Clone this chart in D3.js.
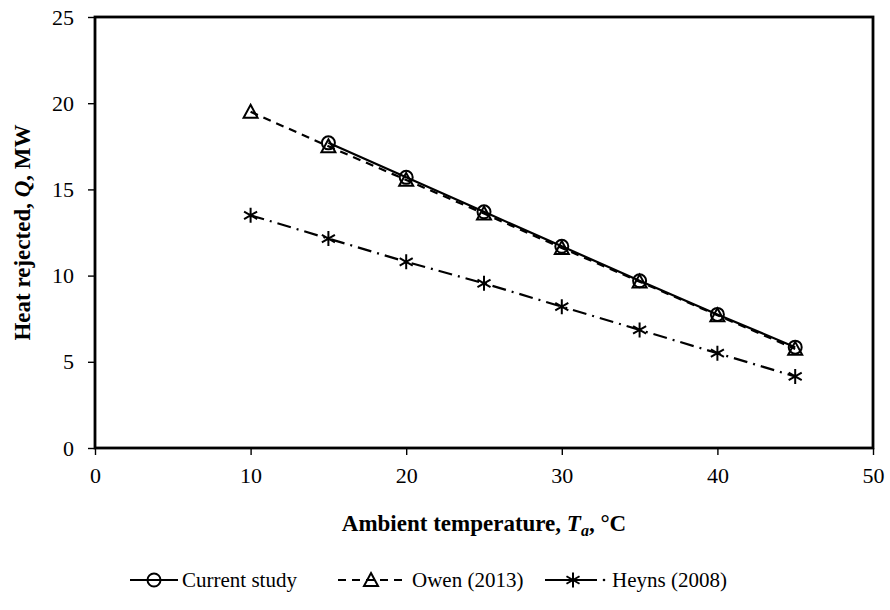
<!DOCTYPE html>
<html><head><meta charset="utf-8">
<script src="https://cdn.jsdelivr.net/npm/d3@7"></script>
<style>body{margin:0;background:#fff}svg{display:block}</style>
</head><body>
<script>
const xTicks = [0,10,20,30,40,50];
const yTicks = [0,5,10,15,20,25];
const currentX = [15,20,25,30,35,40,45];
const currentY = [17.7,15.7,13.7,11.7,9.7,7.75,5.85];
const owenX = [10,15,20,25,30,35,40,45];
const owenY = [19.5,17.5,15.55,13.6,11.6,9.65,7.7,5.75];
const heynsX = [10,15,20,25,30,35,40,45];
const heynsY = [13.5,12.15,10.8,9.55,8.2,6.85,5.5,4.15];
const seriesNames = ["Current study","Owen (2013)","Heyns (2008)"];

const W=890,H=610;
const m={l:95,r:873,t:17,b:448};
const FONT="Liberation Serif";
const svg=d3.select("body").append("svg").attr("width",W).attr("height",H);
const x=d3.scaleLinear().domain([0,50]).range([m.l,m.r]);
const y=d3.scaleLinear().domain([0,25]).range([m.b,m.t]);

// axes
const gx=svg.append("g").attr("transform",`translate(0,${m.b})`)
  .call(d3.axisBottom(x).tickValues(xTicks).tickSize(7).tickPadding(12).tickSizeOuter(0));
const gy=svg.append("g").attr("transform",`translate(${m.l},0)`)
  .call(d3.axisLeft(y).tickValues(yTicks).tickSize(7).tickPadding(14).tickSizeOuter(0));
[gx,gy].forEach(g=>{
  g.attr("font-family",FONT).attr("font-size",22);
  g.select(".domain").remove();
  g.selectAll("line").attr("stroke","#000").attr("stroke-width",1.4);
  g.selectAll("text").attr("font-family",FONT).attr("font-size",22).attr("fill","#000");
});
// frame
svg.append("rect").attr("x",m.l).attr("y",m.t).attr("width",m.r-m.l).attr("height",m.b-m.t)
  .attr("fill","none").attr("stroke","#000").attr("stroke-width",2.8);

// series
function symPath(type,cx,cy,g){
  if(type==="circle"){
    g.append("circle").attr("cx",cx).attr("cy",cy).attr("r",6.5).attr("fill","none").attr("stroke","#000").attr("stroke-width",2);
  } else if(type==="tri"){
    const s=7;
    g.append("path").attr("d",`M${cx},${cy-s}L${cx+s},${cy+s*0.85}L${cx-s},${cy+s*0.85}Z`)
      .attr("fill","none").attr("stroke","#000").attr("stroke-width",2);
  } else {
    const s=7.5;
    g.append("path").attr("d",`M${cx},${cy-s}V${cy+s}M${cx-s*0.87},${cy-s*0.5}L${cx+s*0.87},${cy+s*0.5}M${cx-s*0.87},${cy+s*0.5}L${cx+s*0.87},${cy-s*0.5}`)
      .attr("fill","none").attr("stroke","#000").attr("stroke-width",2);
  }
}
const line=d3.line().x(d=>x(d[0])).y(d=>y(d[1]));
const series=[
  {xs:owenX,ys:owenY,dash:"8,6",sym:"tri"},
  {xs:heynsX,ys:heynsY,dash:"14,6,2,6",sym:"star"},
  {xs:currentX,ys:currentY,dash:null,sym:"circle"}
];
series.forEach(s=>{
  const pts=s.xs.map((v,i)=>[v,s.ys[i]]);
  svg.append("path").datum(pts).attr("d",line).attr("fill","none").attr("stroke","#000")
    .attr("stroke-width",2.2).attr("stroke-dasharray",s.dash);
  const g=svg.append("g");
  pts.forEach(p=>symPath(s.sym,x(p[0]),y(p[1]),g));
});

// axis titles
const xt=svg.append("text").attr("x",(m.l+m.r)/2).attr("y",531).attr("text-anchor","middle")
  .attr("font-family",FONT).attr("font-size",23).attr("font-weight","bold");
xt.append("tspan").text("Ambient temperature, ");
xt.append("tspan").attr("font-style","italic").text("T");
xt.append("tspan").attr("font-style","italic").attr("font-size",16).attr("dy",5).text("a");
xt.append("tspan").attr("dy",-5).text(", °C");

const yt=svg.append("text").attr("transform",`translate(30,${(m.t+m.b)/2}) rotate(-90)`).attr("text-anchor","middle")
  .attr("font-family",FONT).attr("font-size",23).attr("font-weight","bold");
yt.append("tspan").text("Heat rejected, ");
yt.append("tspan").attr("font-style","italic").text("Q");
yt.append("tspan").text(", MW");

// legend
const ly=580;
const leg=[
  {x0:130,x1:178,sym:"circle",dash:null,tx:182,name:seriesNames[0],dot:null},
  {x0:338,x1:404,sym:"tri",dash:"8,6",tx:412,name:seriesNames[1],dot:null},
  {x0:545,x1:597,sym:"star",dash:null,tx:612,name:seriesNames[2],dot:604}
];
leg.forEach(l=>{
  svg.append("line").attr("x1",l.x0).attr("x2",l.x1).attr("y1",ly).attr("y2",ly)
    .attr("stroke","#000").attr("stroke-width",2.2).attr("stroke-dasharray",l.dash);
  if(l.dot) svg.append("circle").attr("cx",l.dot).attr("cy",ly).attr("r",1.3).attr("fill","#000");
  symPath(l.sym,l.sym==="star"?573:(l.x0+l.x1)/2,ly,svg.append("g"));
  svg.append("text").attr("x",l.tx).attr("y",ly+7).attr("font-family",FONT).attr("font-size",21).text(l.name);
});
</script>
</body></html>
